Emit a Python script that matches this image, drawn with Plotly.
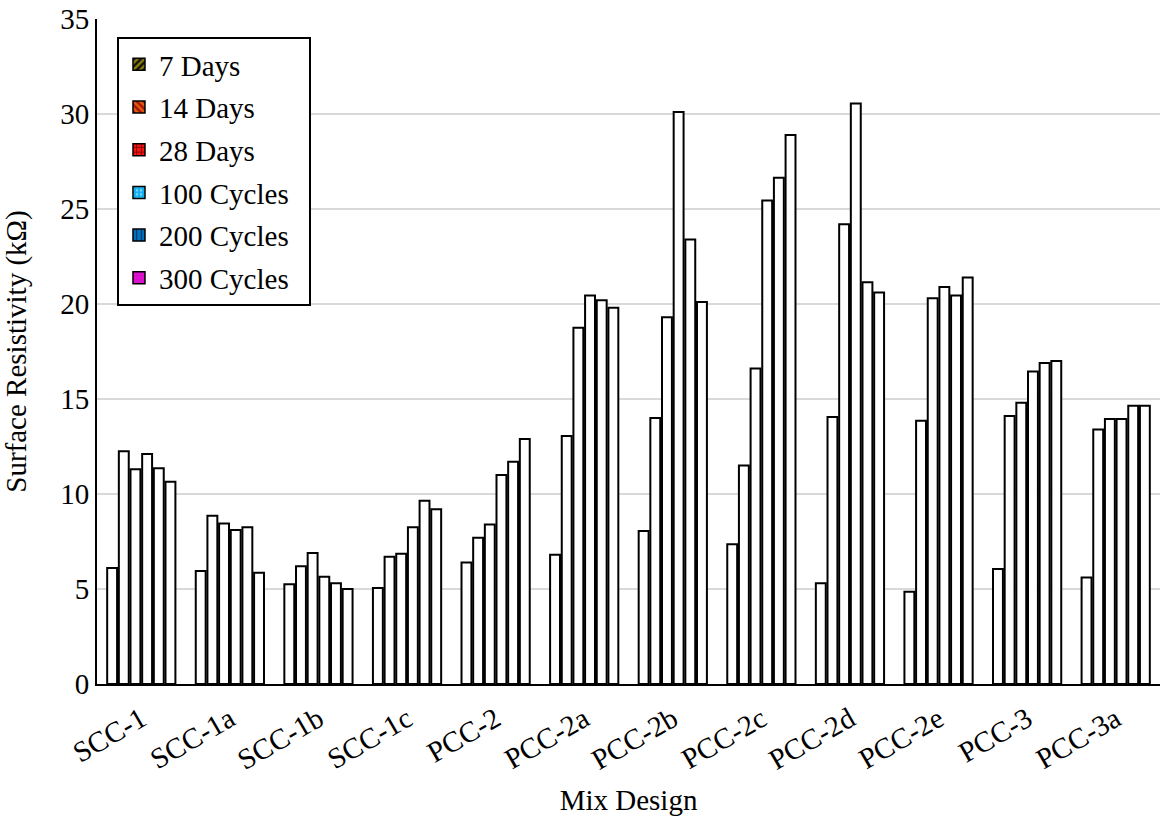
import plotly.graph_objects as go

categories = ["SCC-1", "SCC-1a", "SCC-1b", "SCC-1c", "PCC-2", "PCC-2a",
              "PCC-2b", "PCC-2c", "PCC-2d", "PCC-2e", "PCC-3", "PCC-3a"]
series_names = ["7 Days", "14 Days", "28 Days", "100 Cycles", "200 Cycles", "300 Cycles"]

days7 = [6.1, 5.95, 5.25, 5.05, 6.4, 6.8, 8.05, 7.35, 5.3, 4.85, 6.05, 5.6]
days14 = [12.25, 8.85, 6.2, 6.7, 7.7, 13.05, 14.0, 11.5, 14.05, 13.85, 14.1, 13.4]
days28 = [11.3, 8.45, 6.9, 6.85, 8.4, 18.75, 19.3, 16.6, 24.2, 20.3, 14.8, 13.95]
cycles100 = [12.1, 8.1, 5.65, 8.25, 11.0, 20.45, 30.1, 25.45, 30.55, 20.9, 16.45, 13.95]
cycles200 = [11.35, 8.25, 5.3, 9.65, 11.7, 20.2, 23.4, 26.65, 21.15, 20.45, 16.9, 14.65]
cycles300 = [10.65, 5.85, 5.0, 9.2, 12.9, 19.8, 20.1, 28.9, 20.6, 21.4, 17.0, 14.65]

all_series = [days7, days14, days28, cycles100, cycles200, cycles300]

legend_styles = [
    dict(color="#111111", pattern=dict(shape="/", fgcolor="#FFE800", size=6, solidity=0.5)),
    dict(color="#B01010", pattern=dict(shape="\\", fgcolor="#FFB000", size=6, solidity=0.5)),
    dict(color="#FF1010", pattern=dict(shape="+", fgcolor="#000000", size=6, solidity=0.35)),
    dict(color="#10B0F0", pattern=dict(shape=".", fgcolor="#FFFFFF", size=5, solidity=0.25)),
    dict(color="#0070C0", pattern=dict(shape="|", fgcolor="#000000", size=6, solidity=0.25)),
    dict(color="#E010D0", pattern=dict(shape=".", fgcolor="#8030A0", size=5, solidity=0.15)),
]

font_family = "Liberation Serif, Times New Roman, serif"
FS = 29

fig = go.Figure()

for name, vals in zip(series_names, all_series):
    fig.add_trace(go.Bar(
        x=categories, y=vals, name=name, showlegend=False,
        marker=dict(color="white", line=dict(color="black", width=2)),
    ))

for i, (name, st) in enumerate(zip(series_names, legend_styles)):
    fig.add_trace(go.Bar(
        x=[categories[0]], y=[None], name=name + "\u00a0\u00a0", showlegend=True,
        legendgroup=f"g{i}",
        xaxis="x2", yaxis="y2",
        marker=dict(color=st["color"], pattern=st["pattern"],
                    line=dict(color="black", width=1.5)),
    ))

fig.update_layout(
    width=1161, height=823,
    paper_bgcolor="white", plot_bgcolor="white",
    margin=dict(l=97, r=1, t=19, b=139),
    barmode="group", bargap=0.21, bargroupgap=0.15,
    font=dict(family=font_family, size=FS, color="black"),
    xaxis=dict(
        showline=True, linecolor="black", linewidth=2,
        tickangle=-30, ticks="outside", ticklen=5, tickcolor="rgba(0,0,0,0)",
        tickfont=dict(size=FS),
        title=dict(text="Mix Design", font=dict(size=FS), standoff=15),
        showgrid=False, automargin=False,
    ),
    yaxis=dict(
        range=[0, 35], dtick=5, showline=True, linecolor="black", linewidth=2,
        showgrid=True, gridcolor="#D9D9D9", gridwidth=2, ticks="",
        tickfont=dict(size=FS), zeroline=False, automargin=False,
        ticklabeloverflow="allow",
        title=dict(text="Surface Resistivity (kΩ)", font=dict(size=FS), standoff=31),
    ),
    xaxis2=dict(overlaying="x", visible=False),
    yaxis2=dict(overlaying="y", visible=False, range=[0, 35]),
    legend=dict(
        x=0.0188, y=0.973, xanchor="left", yanchor="top",
        bgcolor="white", bordercolor="black", borderwidth=2,
        font=dict(size=FS), tracegroupgap=2,
    ),
)

fig.write_html("out.html", config={"displayModeBar": False},
               post_script="document.body.style.margin='0';")
